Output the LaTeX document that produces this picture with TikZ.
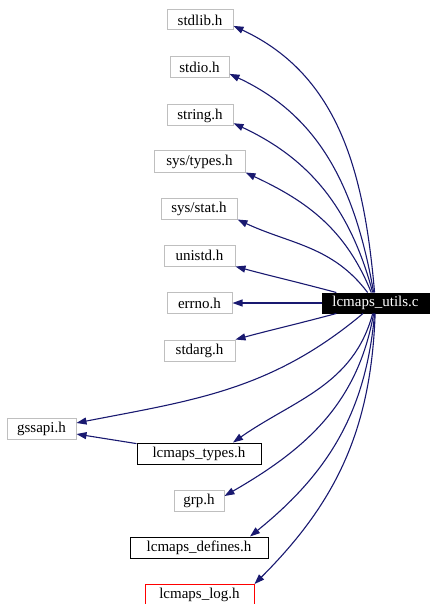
\documentclass[tikz,border=0pt]{standalone}
\usepackage{fontspec}
\setmainfont{Liberation Serif}
\usetikzlibrary{arrows.meta}
\definecolor{edgeblue}{HTML}{191970}
\definecolor{boxgray}{HTML}{BFBFBF}

\begin{document}
\begin{tikzpicture}[
  x=1pt, y=-1pt, font=\fontsize{15}{17}\selectfont,
  >={Triangle[length=10pt,width=7pt]},
  f/.style={draw=boxgray, line width=1pt, minimum height=21pt, inner sep=0pt, fill=white},
  loc/.style={f, draw=black},
  bad/.style={f, draw=red},
  cur/.style={f, draw=black, fill=black, text=white},
  e/.style={->, draw=edgeblue, line width=1.1pt}]
\useasboundingbox (0,0) rectangle (429,604);
\node[f, minimum width=66pt, minimum height=20pt] (stdlib) at (200,20) {stdlib.h};
\node[f, minimum width=59pt] (stdio) at (199.5,67.5) {stdio.h};
\node[f, minimum width=66pt] (string) at (200,115.5) {string.h};
\node[f, minimum width=91pt] (systypes) at (199.5,161.5) {sys/types.h};
\node[f, minimum width=76pt] (sysstat) at (199,208.5) {sys/stat.h};
\node[f, minimum width=71pt] (unistd) at (199.5,255.5) {unistd.h};
\node[f, minimum width=65pt] (errno) at (199.5,303) {errno.h};
\node[f, minimum width=71pt] (stdarg) at (199.5,350.5) {stdarg.h};
\node[f, minimum width=69pt] (gssapi) at (41.5,428.5) {gssapi.h};
\node[loc, minimum width=124pt] (types) at (199,453.5) {lcmaps\_types.h};
\node[f, minimum width=50pt] (grp) at (199,500.5) {grp.h};
\node[loc, minimum width=138pt] (defines) at (199,547.5) {lcmaps\_defines.h};
\node[bad, minimum width=109pt] (log) at (199.5,595) {lcmaps\_log.h};
\node[cur, minimum width=107pt, minimum height=20pt] (utils) at (375.5,303) {lcmaps\_utils.c};
% edges from lcmaps_utils.c
\foreach \t/\o/\i in {stdlib.-10/95/-25, stdio.-12/100/-25, string.-13/105/-25,
  systypes.south east/112/-25, sysstat.south east/127/-25, unistd.south east/165/-15,
  stdarg.north east/-165/15, gssapi.9/-140/11, grp.10/-100/30, log.north east/-92/45}
  \draw[e] (utils) to[out=\o, in=\i] (\t);
\draw[e] (utils) to[out=-105, in=35] ([xshift=34pt]types.north);
\draw[e] (utils) to[out=-95, in=39] ([xshift=51pt]defines.north);
\draw[e] (utils) -- (errno);
\draw[e] (types) -- (gssapi);
\end{tikzpicture}
\end{document}
